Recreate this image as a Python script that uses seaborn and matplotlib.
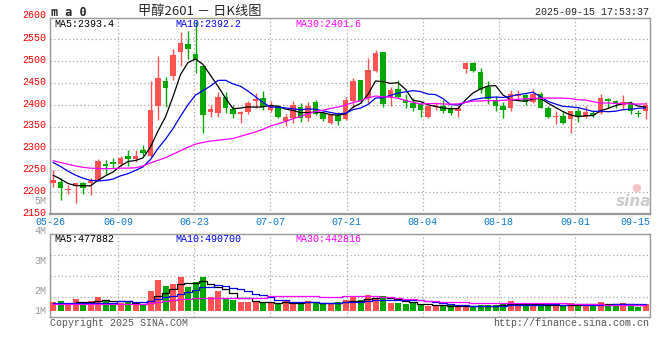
import numpy as np
import pandas as pd
import matplotlib
matplotlib.use("Agg")
import matplotlib.pyplot as plt
import matplotlib.transforms as mtransforms
import seaborn as sns

# daily candles 05-26 .. 09-15
date_labels = ["05-26", "06-09", "06-23", "07-07", "07-21", "08-04", "08-18", "09-01", "09-15"]
date_idx = [0, 9, 19, 29, 39, 49, 59, 69, 79]

opens = [2220, 2224, 2204, 2215, 2222, 2220, 2227, 2265, 2270, 2265,
         2283, 2276, 2296, 2282, 2398, 2454, 2466, 2520, 2540, 2517,
         2488, 2383, 2382, 2418, 2390, 2380, 2384, 2408, 2416, 2389,
         2398, 2364, 2369, 2395, 2369, 2407, 2382, 2359, 2376, 2367,
         2408, 2457, 2416, 2478, 2520, 2416, 2437, 2411, 2404, 2401,
         2373, 2396, 2397, 2393, 2386, 2482, 2495, 2475, 2440, 2412,
         2397, 2392, 2421, 2422, 2406, 2425, 2393, 2372, 2375, 2367,
         2386, 2373, 2382, 2382, 2414, 2410, 2399, 2404, 2382, 2386]
highs = [2250, 2232, 2216, 2222, 2224, 2232, 2277, 2274, 2279, 2283,
         2297, 2296, 2308, 2454, 2511, 2464, 2527, 2566, 2570, 2592,
         2490, 2399, 2430, 2430, 2399, 2386, 2408, 2427, 2431, 2408,
         2400, 2378, 2408, 2405, 2407, 2412, 2384, 2377, 2384, 2418,
         2461, 2458, 2507, 2526, 2522, 2440, 2458, 2425, 2416, 2405,
         2400, 2406, 2412, 2397, 2399, 2499, 2499, 2484, 2455, 2420,
         2406, 2435, 2435, 2425, 2437, 2430, 2397, 2386, 2386, 2387,
         2392, 2397, 2389, 2425, 2416, 2412, 2422, 2408, 2389, 2407]
lows = [2211, 2181, 2196, 2175, 2196, 2193, 2225, 2240, 2256, 2259,
        2259, 2270, 2282, 2280, 2365, 2396, 2458, 2490, 2505, 2473,
        2336, 2373, 2373, 2382, 2370, 2359, 2378, 2393, 2389, 2384,
        2370, 2351, 2359, 2361, 2364, 2376, 2364, 2357, 2355, 2365,
        2393, 2405, 2405, 2475, 2395, 2397, 2416, 2392, 2386, 2373,
        2369, 2389, 2382, 2376, 2373, 2473, 2475, 2427, 2402, 2386,
        2369, 2387, 2412, 2399, 2405, 2392, 2370, 2356, 2357, 2336,
        2361, 2370, 2372, 2380, 2392, 2393, 2389, 2380, 2372, 2367]
closes = [2227, 2209, 2208, 2220, 2210, 2226, 2272, 2259, 2264, 2279,
          2277, 2284, 2289, 2389, 2462, 2439, 2515, 2542, 2527, 2502,
          2377, 2390, 2417, 2392, 2380, 2384, 2404, 2414, 2395, 2397,
          2373, 2373, 2399, 2369, 2398, 2378, 2367, 2376, 2364, 2411,
          2455, 2410, 2480, 2518, 2403, 2435, 2418, 2404, 2392, 2389,
          2398, 2399, 2387, 2382, 2392, 2497, 2478, 2435, 2414, 2397,
          2389, 2425, 2424, 2407, 2424, 2393, 2372, 2375, 2359, 2386,
          2372, 2384, 2376, 2416, 2410, 2405, 2407, 2386, 2378, 2399]
volumes = [670000, 770000, 485000, 900000, 562000, 770000, 1055000, 770000, 562000, 562000,
           670000, 462000, 485000, 1540000, 2364000, 1902000, 2056000, 2595000, 1825000, 2210000,
           2595000, 1024000, 1540000, 1001000, 824000, 693000, 693000, 693000, 616000, 562000,
           562000, 824000, 562000, 562000, 770000, 562000, 562000, 562000, 670000, 824000,
           1024000, 824000, 1209000, 947000, 1132000, 616000, 616000, 516000, 562000, 439000,
           362000, 362000, 362000, 439000, 308000, 308000, 308000, 439000, 439000, 439000,
           562000, 770000, 485000, 439000, 439000, 439000, 362000, 439000, 362000, 562000,
           516000, 516000, 439000, 670000, 439000, 516000, 593000, 485000, 308000, 485000]

# moving-average values before enough history exists
ma5_head = [2239, 2230, 2220, 2215]
ma10_head = [2268, 2259, 2248, 2239, 2232, 2227, 2226, 2227, 2230]
ma30_head = [2272, 2268, 2264, 2260, 2257, 2255, 2254, 2254, 2254, 2255,
             2255, 2256, 2260, 2267, 2273, 2279, 2287, 2295, 2303, 2310,
             2314, 2317, 2319, 2321, 2323, 2328, 2333, 2338, 2344]
vma5_head = [np.nan, np.nan, np.nan, 640000]
vma10_head = [560000, 565000, 570000, 570000, 575000, 575000, 580000, 580000, 580000]
vma30_head = [500000, 500000, 500000, 500000, 500000, 500000, 500000, 500000, 500000, 500000,
              500000, 500000, 500000, 560000, 690000, 770000, 820000, 870000, 920000, 950000,
              980000, 1000000, 1000000, 1000000, 1000000, 1000000, 1000000, 1000000, 1000000]

RED = "#ff5252"
GREEN = "#00a800"
GRIDC = "#aaaaaa"
FRAME = "#999999"
MONO = "Liberation Mono"

df = pd.DataFrame({"i": np.arange(len(closes)), "open": opens, "high": highs,
                   "low": lows, "close": closes, "vol": volumes})


def with_head(series, window, head):
    s = series.rolling(window).mean()
    s.iloc[:len(head)] = head
    return s


df["ma5"] = with_head(df["close"], 5, ma5_head)
df["ma10"] = with_head(df["close"], 10, ma10_head)
df["ma30"] = with_head(df["close"], 30, ma30_head)
df["vma5"] = with_head(df["vol"], 5, vma5_head)
df["vma10"] = with_head(df["vol"], 10, vma10_head)
df["vma30"] = with_head(df["vol"], 30, vma30_head)

sns.set_style("white")
plt.rcParams["font.family"] = [MONO, "DejaVu Sans"]

W, H = 660, 360
fig = plt.figure(figsize=(W / 100, H / 100), dpi=100)


def fx(x, y):
    return x / W, 1 - y / H


ax = fig.add_axes([50 / W, 1 - 214 / H, 600 / W, 196 / H])
axv = fig.add_axes([50 / W, 1 - 317.3 / H, 600 / W, 83 / H])

up = df["close"] >= df["open"]
cols = np.where(up, RED, GREEN)

# candles
ax.vlines(df["i"], df["low"], df["high"], colors=cols, linewidth=1.0, zorder=3)
body_lo = np.minimum(df["open"], df["close"])
body_h = np.maximum((df["close"] - df["open"]).abs(), 0.8)
ax.bar(df["i"], body_h, bottom=body_lo, width=0.76, color=cols, linewidth=0, zorder=4)

sns.lineplot(data=df, x="i", y="ma5", ax=ax, color="black", linewidth=0.9, zorder=5)
sns.lineplot(data=df, x="i", y="ma10", ax=ax, color="#0000ee", linewidth=0.9, zorder=5)
sns.lineplot(data=df, x="i", y="ma30", ax=ax, color="#ff00ff", linewidth=0.9, zorder=5)

# volume
axv.bar(df["i"], df["vol"], width=0.8, color=cols, linewidth=0, zorder=3)
sns.lineplot(data=df, x="i", y="vma5", ax=axv, color="black", linewidth=0.9,
             drawstyle="steps-mid", zorder=5)
sns.lineplot(data=df, x="i", y="vma10", ax=axv, color="#0000ee", linewidth=0.9,
             drawstyle="steps-mid", zorder=5)
sns.lineplot(data=df, x="i", y="vma30", ax=axv, color="#ff00ff", linewidth=0.9,
             drawstyle="steps-mid", zorder=5)

grid_x = np.clip(np.array(date_idx) * 1.0147 - 0.43, -0.4, 79.6)

for a in (ax, axv):
    a.set_xlim(-0.4, 79.6)
    a.set_xlabel("")
    a.set_ylabel("")
    a.set_axisbelow(True)
    a.set_xticks(grid_x)
    a.grid(True, color=GRIDC, linestyle=(0, (1, 2)), linewidth=0.9)
    for s in a.spines.values():
        s.set_color(FRAME)
        s.set_linewidth(1.0)
    a.tick_params(length=0)

ax.set_ylim(2151, 2599)
ax.set_yticks(range(2150, 2551, 50))
ax.tick_params(axis="y", colors="red", labelsize=7.2, pad=3)
# the site draws price labels a couple of pixels above their grid line
lift = mtransforms.ScaledTranslation(0, 1.6 / 72, fig.dpi_scale_trans)
for lab in ax.get_yticklabels():
    lab.set_transform(lab.get_transform() + lift)
ax.set_xticklabels(date_labels)
ax.tick_params(axis="x", colors="#0b78d0", labelsize=7.2, pad=2)
ax.get_xticklabels()[-1].set_ha("right")
ax.spines["bottom"].set_linewidth(1.6)

axv.set_ylim(-508000, 5883000)
axv.set_yticks([1055000, 2672000, 4289000])
axv.set_yticklabels([])
axv.set_xticklabels([])

# texts
fig.text(*fx(46, 15), "2600", color="red", fontsize=7.2, ha="right", va="center")
fig.text(*fx(51, 12), "m a 0", fontsize=8.5, fontweight="bold", family="DejaVu Sans Mono",
         ha="left", va="center")
fig.text(*fx(200, 12), "甲醇2601 － 日K线图", fontsize=9.5,
         family=["Noto Sans CJK SC", "DejaVu Sans"], ha="center", va="center")
fig.text(*fx(649, 12), "2025-09-15 17:53:37", fontsize=7.2, ha="right", va="center")

fig.text(*fx(54, 24), "MA5:2393.4", fontsize=7.2, color="black", va="center")
fig.text(*fx(175, 24), "MA10:2392.2", fontsize=7.2, color="#0000ee", va="center")
fig.text(*fx(295, 24), "MA30:2401.6", fontsize=7.2, color="#ff00ff", va="center")

fig.text(*fx(54, 238.5), "MA5:477882", fontsize=7.2, color="black", va="center")
fig.text(*fx(175, 238.5), "MA10:490700", fontsize=7.2, color="#0000ee", va="center")
fig.text(*fx(295, 238.5), "MA30:442816", fontsize=7.2, color="#ff00ff", va="center")

for lab, yy in [("5M", 201), ("4M", 231), ("3M", 260.5), ("2M", 290.5), ("1M", 310.5)]:
    fig.text(*fx(46, yy), lab, fontsize=7.2, color="#999999", ha="right", va="center")

fig.text(*fx(50, 323.5), "Copyright 2025 SINA.COM", fontsize=7.2, color="#555555",
         ha="left", va="center")
fig.text(*fx(649, 323.5), "http://finance.sina.com.cn", fontsize=7.2, color="#555555",
         ha="right", va="center")

fig.text(*fx(634, 201), "sina", fontsize=11, fontstyle="italic", fontweight="bold",
         family="DejaVu Sans", color="#cccccc", ha="center", va="center")
fig.text(*fx(636, 188), "●", fontsize=8, family="DejaVu Sans", color="#f4c4c4",
         ha="center", va="center")

fig.savefig("out.png", dpi=100)
